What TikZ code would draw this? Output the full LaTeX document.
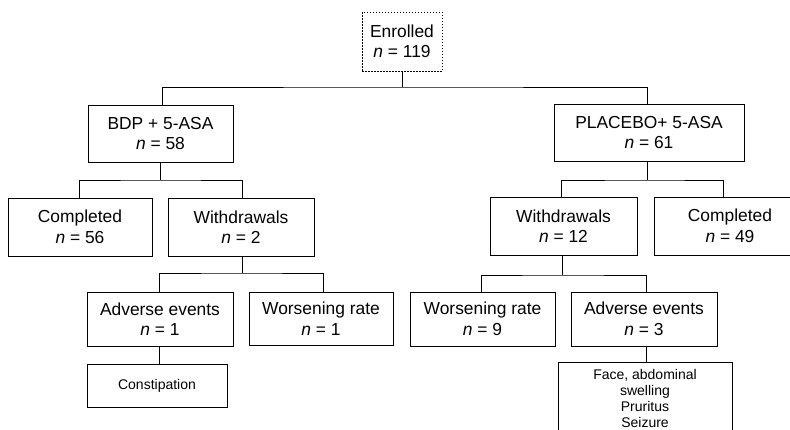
\documentclass[tikz,border=0pt]{standalone}
\usepackage{fontspec}
\setmainfont{Liberation Sans}
\begin{document}
\begin{tikzpicture}[x=1pt,y=-1pt,
  box/.style={draw=black, line width=0.9pt, inner sep=0pt, align=center,
    font=\fontsize{17.4}{20.5}\selectfont},
  small/.style={draw=black, line width=0.9pt, inner sep=0pt, align=center,
    font=\fontsize{14}{16}\selectfont},
  conn/.style={line width=0.9pt, black}]
\useasboundingbox (0,0) rectangle (790,429);
\clip (0,0) rectangle (790,429);
% nodes
\node[box, dash pattern=on 1.5pt off 1.5pt, minimum width=80, minimum height=59] (enr) at (402,41.5) {Enrolled\\\textit{n} = 119};
\node[box, minimum width=145, minimum height=57] (bdp) at (160.5,133.5) {BDP + 5-ASA\\\textit{n} = 58};
\node[box, minimum width=190, minimum height=57] (pla) at (649,132.5) {PLACEBO+ 5-ASA\\\textit{n} = 61};
\node[box, minimum width=144, minimum height=58] (comp1) at (80,227) {Completed\\\textit{n} = 56};
\node[box, minimum width=146, minimum height=58] (with1) at (241,227) {Withdrawals\\\textit{n} = 2};
\node[box, minimum width=147, minimum height=58] (with2) at (563.5,226) {Withdrawals\\\textit{n} = 12};
\node[box, minimum width=152, minimum height=58] (comp2) at (730,226) {Completed\\\textit{n} = 49};
\node[box, minimum width=146, minimum height=54] (ae1) at (160,319) {Adverse events\\\textit{n} = 1};
\node[box, minimum width=144, minimum height=53] (wr1) at (321,318.5) {Worsening rate\\\textit{n} = 1};
\node[box, minimum width=145, minimum height=54] (wr2) at (482.5,319) {Worsening rate\\\textit{n} = 9};
\node[box, minimum width=146, minimum height=54] (ae2) at (644,319) {Adverse events\\\textit{n} = 3};
\node[small, minimum width=140, minimum height=43] (const) at (157,385.5) {Constipation};
\node[small, minimum width=174, minimum height=72] (face) at (645,398.5) {Face, abdominal\\swelling\\Pruritus\\Seizure};
% junction levels
\coordinate (j1) at (0,87);
\coordinate (j2) at (0,180);
\coordinate (j3) at (0,273);
\coordinate (j4) at (0,275);
% connectors
\draw[conn] (enr.south) -- (enr.south |- j1);
\draw[conn] ([xshift=1.5pt]bdp.north) |- (enr.south |- j1) -| ([xshift=-2pt]pla.north);
\draw[conn] (bdp.south) -- (bdp.south |- j2);
\draw[conn] ([xshift=-1pt]comp1.north) |- (bdp.south |- j2) -| ([xshift=1pt]with1.north);
\draw[conn] ([xshift=-2pt]pla.south) -- ([xshift=-2pt]pla.south |- j2);
\draw[conn] ([xshift=-2.5pt]with2.north) |- ([xshift=-2pt]pla.south |- j2) -| ([xshift=-7pt]comp2.north);
\draw[conn] ([xshift=1pt]with1.south) -- ([xshift=1pt]with1.south |- j3);
\draw[conn] ([xshift=-1pt]ae1.north) |- ([xshift=1pt]with1.south |- j3) -| ([xshift=2pt]wr1.north);
\draw[conn] ([xshift=-1.5pt]with2.south) -- ([xshift=-1.5pt]with2.south |- j4);
\draw[conn] ([xshift=-1.5pt]wr2.north) |- ([xshift=-1.5pt]with2.south |- j4) -| ([xshift=2pt]ae2.north);
\draw[conn] ([xshift=-1pt]ae1.south) -- ([xshift=-1pt]ae1.south |- const.north);
\draw[conn] ([xshift=2pt]ae2.south) -- ([xshift=2pt]ae2.south |- face.north);
\end{tikzpicture}
\end{document}
